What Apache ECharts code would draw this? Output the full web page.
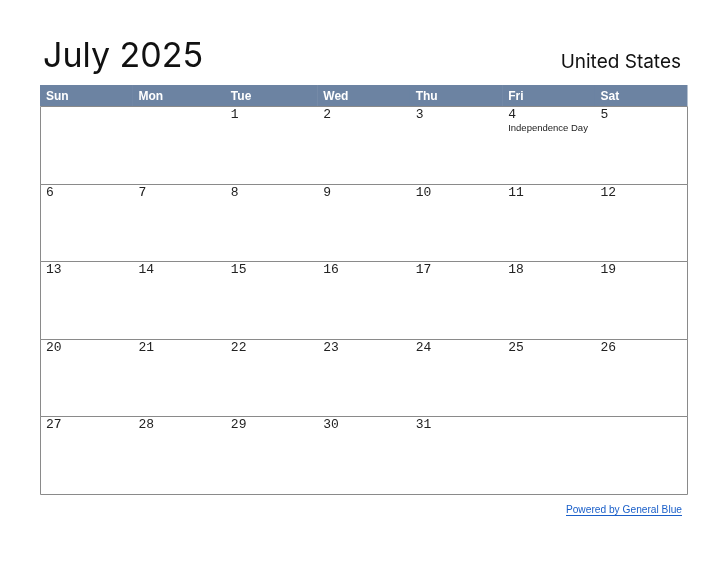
<!DOCTYPE html>
<html><head><meta charset="utf-8">
<script src="https://cdn.jsdelivr.net/npm/echarts@6/dist/echarts.min.js"></script>
<style>html,body{margin:0;padding:0;background:#fff}#c{width:728px;height:563px}</style>
</head><body><div id="c"></div>
<script>
const weekdays = ['Sun','Mon','Tue','Wed','Thu','Fri','Sat'];
const firstWeekday = 2; // July 1 2025 is Tuesday
const daysInMonth = 31;
const holidays = {4: 'Independence Day'};
const weeks = 5;

const cells = [];
for (let d = 1; d <= daysInMonth; d++) {
  const idx = firstWeekday + d - 1;
  cells.push([idx % 7, Math.floor(idx / 7), d, holidays[d] || '']);
}
const rows = [];
for (let r = 0; r < weeks; r++) rows.push([0, r]);

const chart = echarts.init(document.getElementById('c'), null, {renderer:'canvas'});
chart.setOption({
  animation:false,
  title:[
    {text:'July 2025', left:38, top:35, textStyle:{fontFamily:'Inter', fontSize:34, fontWeight:'normal', color:'#111'}},
    {text:'United States', right:42, top:48, textStyle:{fontFamily:'Inter', fontSize:19, fontWeight:'normal', color:'#111'}},
    {text:'Powered by General Blue', right:41, top:500, textStyle:{fontFamily:'Liberation Sans', fontSize:10.2, fontWeight:'normal', color:'#1a5fc9'}}
  ],
  graphic:[{type:'line', shape:{x1:566,y1:515.5,x2:682,y2:515.5}, style:{stroke:'#1a5fc9', lineWidth:1}}],
  grid:[
    {left:40, top:85, width:647, height:21},
    {left:40, top:106, width:647, height:388}
  ],
  xAxis:[
    {gridIndex:0, type:'value', min:0, max:7, show:false},
    {gridIndex:1, type:'value', min:0, max:7, show:false}
  ],
  yAxis:[
    {gridIndex:0, type:'value', min:0, max:1, show:false},
    {gridIndex:1, type:'value', min:0, max:weeks, inverse:true, show:false}
  ],
  series:[
    {type:'custom', xAxisIndex:0, yAxisIndex:0, data:weekdays.map((w,i)=>[i,w]),
     renderItem:(p,api)=>{
       const a=api.coord([api.value(0),1]), b=api.coord([api.value(0)+1,0]);
       return {type:'group', children:[
         {type:'rect', shape:{x:a[0],y:a[1],width:b[0]-a[0]+0.5,height:b[1]-a[1]}, style:{fill:'#6c83a2'}},
         {type:'text', style:{text:weekdays[p.dataIndex], x:a[0]+6, y:a[1]+12, verticalAlign:'middle', fill:'#fff', font:'bold 12px "Liberation Sans", Arial'}}
       ]};
     }},
    {type:'custom', xAxisIndex:1, yAxisIndex:1, data:rows,
     renderItem:(p,api)=>{
       const a=api.coord([0,api.value(1)]), b=api.coord([7,api.value(1)+1]);
       return {type:'rect', shape:{x:Math.round(a[0])+0.5,y:Math.round(a[1])+0.5,width:Math.round(b[0])-Math.round(a[0]),height:Math.round(b[1])-Math.round(a[1])}, style:{fill:'none', stroke:'#8a8a8a', lineWidth:1}};
     }},
    {type:'custom', xAxisIndex:1, yAxisIndex:1, data:cells,
     renderItem:(p,api)=>{
       const a=api.coord([api.value(0),api.value(1)]);
       const c=cells[p.dataIndex];
       const ch=[{type:'text', style:{text:String(c[2]), x:a[0]+6, y:a[1]+2, verticalAlign:'top', fill:'#222', font:'13px "Liberation Mono", monospace'}}];
       if (c[3]) ch.push({type:'text', style:{text:c[3], x:a[0]+6, y:a[1]+17, verticalAlign:'top', fill:'#222', font:'9.5px "Liberation Sans", Arial'}});
       return {type:'group', children:ch};
     }}
  ]
});
</script></body></html>
